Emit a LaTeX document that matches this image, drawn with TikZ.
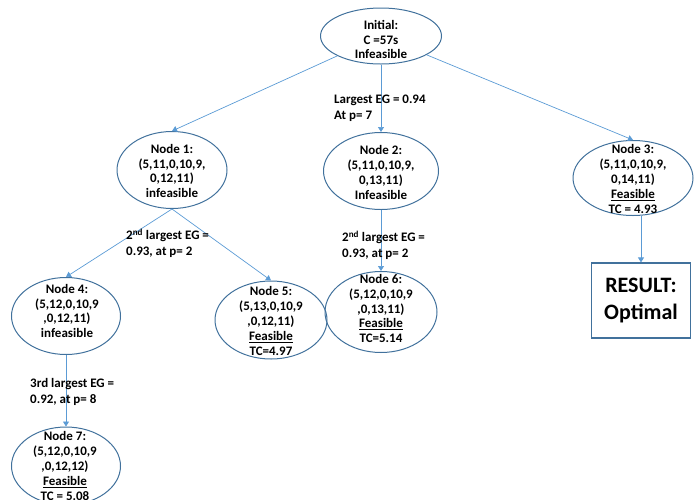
\documentclass[tikz,border=0pt]{standalone}
\usepackage{fontspec}
\setmainfont{Carlito}
\usetikzlibrary{shapes.geometric,arrows.meta}
\definecolor{edgeblue}{HTML}{5B9BD5}
\definecolor{borderblue}{HTML}{41719C}
\tikzset{
  ell/.style={draw=borderblue, line width=1pt, ellipse, inner sep=0pt},
  txt/.style={align=center, inner sep=0pt, font=\bfseries\fontsize{13}{14.8}\selectfont},
  lbl/.style={align=left, anchor=west, inner sep=0pt, font=\bfseries\fontsize{13}{15.8}\selectfont},
  conn/.style={draw=edgeblue, line width=0.7pt, -{Triangle[length=5pt,width=6pt]}},
  resbox/.style={draw=borderblue, line width=1.2pt, minimum width=99pt, minimum height=75pt, inner sep=0pt, align=center, font=\bfseries\fontsize{22}{27}\selectfont}
}
\begin{document}
\begin{tikzpicture}[x=1pt,y=-1pt]
\useasboundingbox (0,0) rectangle (696,499);
% ellipses
\node[ell, minimum width=121pt, minimum height=56pt] (init) at (381,36) {};
\node[txt] (initt) at (381,39.5) {Initial:\\C =57s\\Infeasible};
\node[ell, minimum width=110pt, minimum height=77pt] (n1) at (172,170) {};
\node[txt] (n1t) at (172,171) {Node 1:\\(5,11,0,10,9,\\0,12,11)\\infeasible};
\node[ell, minimum width=115pt, minimum height=77pt] (n2) at (381,171) {};
\node[txt] (n2t) at (381,172.5) {Node 2:\\(5,11,0,10,9,\\0,13,11)\\Infeasible};
\node[ell, minimum width=120pt, minimum height=75pt] (n3) at (633,178) {};
\node[txt] (n3t) at (633,179) {Node 3:\\(5,11,0,10,9,\\0,14,11)\\\underline{Feasible}\\TC = 4.93};
\node[ell, minimum width=109pt, minimum height=77pt] (n4) at (66,316) {};
\node[txt] (n4t) at (67,311) {Node 4:\\(5,12,0,10,9\\,0,12,11)\\infeasible};
\node[ell, minimum width=112pt, minimum height=78pt] (n5) at (271,320) {};
\node[txt] (n5t) at (271,321) {Node 5:\\(5,13,0,10,9\\,0,12,11)\\\underline{Feasible}\\TC=4.97};
\node[ell, minimum width=112pt, minimum height=81pt] (n6) at (381,312) {};
\node[txt] (n6t) at (381,308.5) {Node 6:\\(5,12,0,10,9\\,0,13,11)\\\underline{Feasible}\\TC=5.14};
\node[ell, minimum width=109pt, minimum height=78pt] (n7) at (66,466) {};
\node[txt] (n7t) at (65,466) {Node 7:\\(5,12,0,10,9\\,0,12,12)\\\underline{Feasible}\\TC = 5.08};
\node[resbox] (res) at (641,300.5) {RESULT:\\Optimal};
% connectors
\draw[conn] (init) -- (n1.north);
\draw[conn] (init.south) -- (n2.north);
\draw[conn] (init) -- (n3.north);
\draw[conn] (n1.south) -- (n4.north);
\draw[conn] (n1.south) -- (n5.north);
\draw[conn] (n2.south) -- (n6.north);
\draw[conn] (n4.south) -- (n7.north);
\coordinate (n3b) at (res.north |- n3.south);
\draw[conn] (n3b) -- (res.north);
% labels
\node[lbl] (l1) at (334,108.5) {Largest EG = 0.94\\At p= 7};
\node[lbl] (l2) at (126,243.5) {2\textsuperscript{nd} largest EG =\\0.93, at p= 2};
\node[lbl] (l3) at (342,245.5) {2\textsuperscript{nd} largest EG =\\0.93, at p= 2};
\node[lbl] (l4) at (30,392) {3rd largest EG =\\0.92, at p= 8};
\end{tikzpicture}
\end{document}
